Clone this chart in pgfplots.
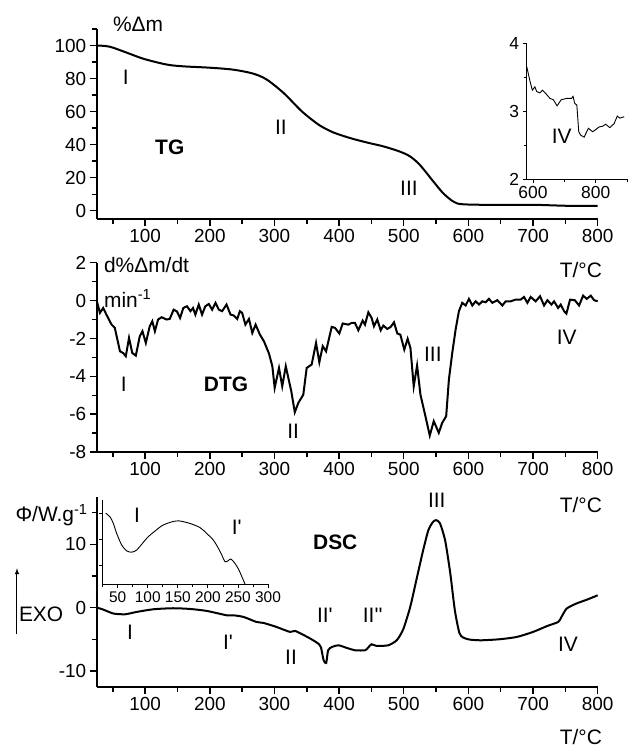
\documentclass[border=0pt]{standalone}
\usepackage{fontspec}
\setmainfont{Liberation Sans}
\usepackage{pgfplots}
\pgfplotsset{compat=1.18}

\newcommand{\lbl}{\fontsize{21}{24}\selectfont}
\newcommand{\q}{\textquotesingle}

\pgfplotsset{
  panel/.style={
    scale only axis, width=501bp, height=190bp,
    anchor=south west, clip=false,
    axis lines=left, axis line style={-, line width=1.6bp},
    xmin=25, xmax=800, xtick={100,200,...,800}, minor xtick={50,150,...,750},
    tick align=outside, major tick length=7bp, minor tick length=5bp,
    every tick/.style={black, line width=1.4bp},
    ticklabel style={font=\fontsize{19}{21}\selectfont},
    /pgf/number format/assume math mode=true,
  },
  inset/.style={
    scale only axis, anchor=south west, clip=false,
    axis lines=left, axis line style={-, line width=0.9bp},
    tick align=outside, major tick length=4bp, minor tick length=3bp,
    every tick/.style={black, line width=0.8bp},
    ticklabel style={font=\fontsize{15.5}{17}\selectfont},
    /pgf/number format/assume math mode=true,
  },
  curve/.style={black, line width=2bp, no marks},
  thin/.style={black, line width=0.9bp, no marks},
}

\begin{document}
\begin{tikzpicture}
\path[use as bounding box] (0,0) rectangle (629bp,-749bp);

% TG
\begin{axis}[panel, at={(96.7bp,-219bp)},
  ymin=-5, ymax=110, ytick={0,20,...,100}, minor ytick={10,30,...,110}]
\addplot[curve, smooth] coordinates {
(25,100) (45,99.3) (72,95.6) (98,91.9) (133,88.5) (159,87.4) (199,86.6)
(236,85.4) (267,83) (288,79.4) (314,71.3) (340,61) (355,56) (371,51.4)
(391,47.4) (417,44) (443,41.3) (469,38.9) (494,35.8) (510,32.8) (525,27.7)
(546,17.6) (561,10.6) (577,5.5) (592,3.9) (649,3.5) (700,3.6) (752,3.0) (800,2.9)};
\node[font=\lbl] at (axis cs:89,112.7) {\%Δm};
\node[font=\lbl] at (axis cs:70,80.6) {I};
\node[font=\lbl] at (axis cs:310,50.2) {II};
\node[font=\lbl\bfseries] at (axis cs:138,38.7) {TG};
\node[font=\lbl] at (axis cs:508,13.8) {III};
\node[font=\lbl] at (axis cs:774,-36) {T/°C};
\end{axis}

% TG inset
\begin{axis}[inset, at={(526.7bp,-179.3bp)}, width=100.3bp, height=136bp,
  ticklabel style={font=\fontsize{17.5}{19}\selectfont},
  xmin=580, xmax=900, ymin=2, ymax=4,
  xtick={600,800}, minor xtick={700,900}, ytick={2,3,4}, minor ytick={2.5,3.5}]
\addplot[thin] coordinates {
(580,3.66) (590.6,3.44) (598,3.31) (606,3.36) (612,3.29) (622,3.27) (630,3.31)
(643,3.25) (654,3.19) (665,3.17) (677,3.08) (690,3.17) (708,3.19) (723,3.19)
(728,3.22) (733,3.12) (740,3.09) (746,2.70) (752,2.65) (763,2.62) (777,2.75)
(790,2.70) (800,2.73) (811,2.77) (822,2.78) (832,2.81) (845,2.76) (859,2.82)
(869,2.93) (877,2.90) (891,2.92)};
\node[font=\lbl] at (axis cs:691.6,2.63) {IV};
\end{axis}

% DTG
\begin{axis}[panel, at={(96.7bp,-452bp)}, height=189.3bp,
  ymin=-8, ymax=2, ytick={-8,-6,...,2}, minor ytick={-7,-5,...,1}]
\addplot[curve] coordinates {
(25,0) (30,-0.65) (35,-0.39) (40,-0.74) (48,-1.27) (53,-1.44) (61,-2.68)
(66,-2.77) (70,-2.94) (75,-1.97) (80,-2.77) (85.5,-2.91) (91.6,-1.89)
(95.8,-1.62) (101,-2.24) (107,-1.36) (111,-1.09) (115,-1.62) (120,-1.0)
(125.5,-0.88) (133,-1.0) (138,-0.97) (144,-0.48) (149,-0.57) (154,-0.92)
(159,-0.39) (164.7,-0.3) (170,-0.56) (174,-0.39) (177.6,-0.74) (182.8,-0.21)
(188,-0.74) (193,-0.3) (198.4,-0.18) (203.5,-0.48) (208.7,-0.12) (213.9,-0.48)
(219,-0.56) (225.8,-0.21) (232,-0.74) (237,-0.79) (242.4,-0.97) (246.5,-0.56)
(250,-0.65) (255,-1.27) (260.5,-0.97) (265.7,-1.71) (270.8,-1.27) (277.5,-1.8)
(283.7,-2.15) (291.5,-2.8) (296.7,-3.47) (300.3,-4.61) (307,-3.56) (312,-4.53)
(317.5,-3.47) (324.3,-4.53) (326,-4.79) (331.4,-5.9) (337,-5.4) (344.6,-4.97)
(349.8,-3.56) (357.5,-3.38) (364.3,-2.24) (369.4,-3.26) (374.6,-2.41)
(379.8,-2.68) (388.5,-1.39) (393.6,-1.44) (400.3,-1.74) (405.5,-1.21)
(414.2,-1.27) (419.4,-1.18) (424.5,-1.18) (429.7,-1.57) (436.4,-1.06)
(440,-1.27) (445.2,-0.62) (450.3,-0.92) (453.9,-1.36) (459,-1.0) (464.3,-1.57)
(468.4,-1.32) (474.6,-1.5) (479.8,-1.39) (484.9,-1.15) (490,-1.74) (494.7,-1.8)
(500.8,-2.59) (506,-2.02) (510.3,-2.5) (515.4,-4.53) (520.6,-3.43)
(525.8,-4.97) (533.5,-6.11) (540.2,-7.13) (546.4,-6.37) (554.2,-6.99)
(559.4,-6.46) (565.6,-6.11) (569.8,-4.17) (575,-2.77) (580.2,-1.53)
(585.3,-0.56) (590.5,-0.12) (595.7,-0.26) (600.8,0.09) (606,-0.26)
(611.2,-0.04) (616.4,-0.21) (621.5,-0.04) (626.6,-0.09) (631.8,0.09)
(637,-0.12) (644.7,0.02) (652.5,-0.26) (657.6,-0.04) (665.3,-0.04) (673,0.05)
(680.8,0.05) (686,0.19) (691.2,-0.12) (696.3,0.19) (704,-0.04) (710.8,0.23)
(717,-0.26) (722.2,0.02) (728.4,-0.21) (732.5,-0.04) (738.7,-0.39)
(742.8,-0.21) (748,-0.56) (751.6,-0.69) (757.2,0.05) (764.5,0.02)
(771.2,-0.26) (777.4,0.26) (783,0.09) (789.3,0.26) (794.4,0.02) (800,-0.04)};
\node[font=\lbl, anchor=west] at (axis cs:31,1.9) {d\%Δm/dt};
\node[font=\lbl, anchor=west] at (axis cs:31,0.1) {min\textsuperscript{-1}};
\node[font=\lbl] at (axis cs:67,-4.44) {I};
\node[font=\lbl\bfseries] at (axis cs:225,-4.44) {DTG};
\node[font=\lbl] at (axis cs:329,-6.92) {II};
\node[font=\lbl] at (axis cs:545,-2.85) {III};
\node[font=\lbl] at (axis cs:752,-1.95) {IV};
\node[font=\lbl] at (axis cs:774,-10.78) {T/°C};
\end{axis}

% DSC
\begin{axis}[panel, at={(96.7bp,-686.7bp)},
  ymin=-12.5, ymax=17.5, ytick={-10,0,10}, minor ytick={-5,5,15}]
\addplot[curve, smooth, tension=0.4] coordinates {
(25,0) (35,-0.32) (51,-0.95) (69,-1.06) (87,-0.69) (113,-0.27) (143,-0.11)
(169,-0.22) (195,-0.53) (226,-1.22) (236,-1.22) (252,-1.48) (272,-2.27)
(283,-2.43) (303,-3.06) (324,-3.85) (332,-3.69) (350,-4.6) (362,-5.3)
(369,-5.8) (372,-6.3) (376,-8.3) (380,-8.75) (383,-6.75) (389,-6.22)
(399,-5.96) (412,-6.38) (425,-6.75) (440,-6.75) (445,-6.32) (450,-5.8)
(458,-6.06) (476,-5.96) (489,-5.17) (499,-3.48) (510,0.1) (520,4.58)
(530,9.05) (538,12.2) (545,13.5) (550,13.8) (556,13.3) (564,10.6) (572,5.37)
(579,-0.43) (586,-4.01) (592,-4.74) (602,-5.06) (620,-5.17) (649,-5.0)
(675,-4.64) (700,-3.85) (721,-2.95) (739,-2.27) (744,-1.48) (752,-0.16)
(767,0.63) (785,1.31) (800,1.94)};
\node[font=\lbl, anchor=west] at (axis cs:-106,14.6) {Φ/W.g\textsuperscript{-1}};
\node[font=\lbl] at (axis cs:-61,-1.0) {EXO};
\draw[-latex, line width=1bp] (axis cs:-98.3,-4.1) -- (axis cs:-98.3,6.2);
\node[font=\lbl] at (axis cs:76.6,-3.9) {I};
\node[font=\lbl] at (axis cs:228,-5.5) {I\q};
\node[font=\lbl] at (axis cs:325.6,-7.85) {II};
\node[font=\lbl\bfseries] at (axis cs:394,10.3) {DSC};
\node[font=\lbl] at (axis cs:378,-1.2) {II\q};
\node[font=\lbl] at (axis cs:452,-1.2) {II\q\q};
\node[font=\lbl] at (axis cs:551,16.95) {III};
\node[font=\lbl] at (axis cs:754,-5.8) {IV};
\node[font=\lbl] at (axis cs:774,-20.5) {T/°C};
\end{axis}

% DSC inset
\begin{axis}[inset, at={(102.7bp,-584.3bp)}, width=165.3bp, height=84.3bp,
  xmin=25, xmax=300, ymin=0.3, ymax=3.5,
  xtick={50,100,...,300}, minor xtick={25,75,...,275},
  ytick={1,2,3}, yticklabels={}]
\addplot[thin, smooth] coordinates {
(30,3.0) (37.2,2.86) (42.7,2.61) (48.3,2.23) (56.6,1.79) (64.9,1.57)
(73.2,1.52) (81.6,1.6) (89.9,1.82) (100.9,2.11) (112,2.32) (123.2,2.52)
(137,2.65) (150.8,2.71) (170.3,2.61) (187,2.45) (198,2.23) (209,1.98)
(217.4,1.67) (223,1.42) (228.5,1.16) (234,1.2) (238,1.26) (243.5,1.14)
(250.6,0.89) (256.3,0.6) (261.8,0.31)};
\node[font=\lbl] at (axis cs:82,2.92) {I};
\node[font=\lbl] at (axis cs:248,2.47) {I\q};
\end{axis}
\end{tikzpicture}
\end{document}
